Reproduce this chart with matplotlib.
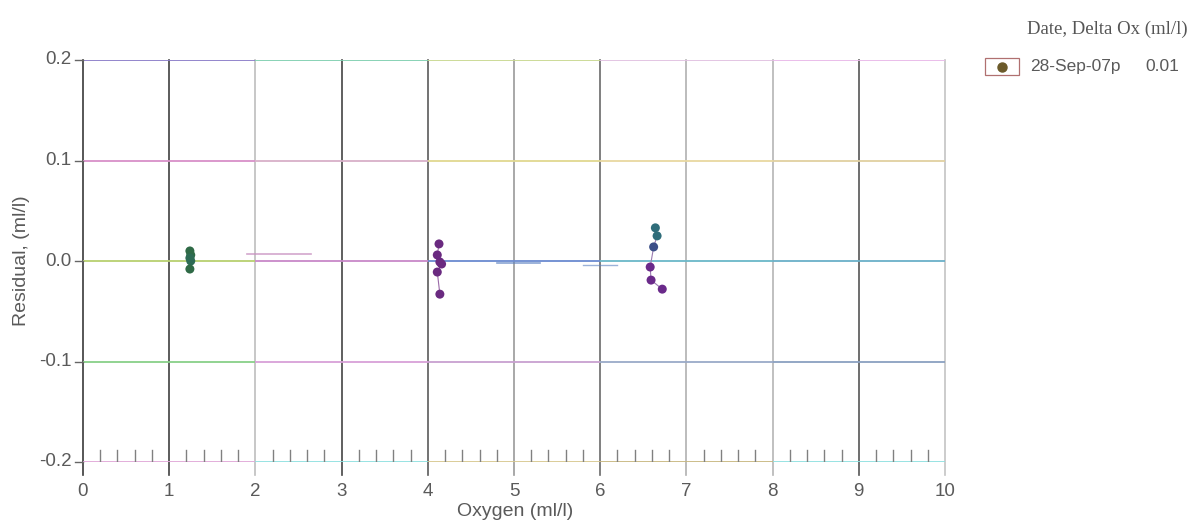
import matplotlib
matplotlib.use("Agg")
import matplotlib.pyplot as plt
from matplotlib.collections import LineCollection
from matplotlib.patches import Rectangle
import numpy as np

# Residuals of the oxygen calibration, grouped by bottle set
oxy_low = [1.24, 1.25, 1.24, 1.25, 1.24]
res_low = [0.010, 0.006, 0.003, 0.000, -0.008]
col_low = ["#2f6a46", "#2f6a46", "#2d6b55", "#2d6b55", "#2f6a46"]

oxy_mid = [4.13, 4.11, 4.14, 4.16, 4.11, 4.14]
res_mid = [0.017, 0.006, -0.001, -0.003, -0.011, -0.033]
col_mid = ["#6a2a80", "#6a2a80", "#6a2a80", "#6a2a80", "#6a2a80", "#6a2a80"]

oxy_high = [6.64, 6.66, 6.62, 6.58, 6.59, 6.72]
res_high = [0.033, 0.025, 0.014, -0.006, -0.019, -0.028]
col_high = ["#2f6d7a", "#2f6d7a", "#3b4e88", "#6a2a8a", "#6a2a8a", "#6a2a8a"]

x_ticks = [0, 1, 2, 3, 4, 5, 6, 7, 8, 9, 10]
y_ticks = [-0.2, -0.1, 0.0, 0.1, 0.2]
y_tick_labels = ["-0.2", "-0.1", "0.0", "0.1", "0.2"]

legend_title = "Date, Delta Ox (ml/l)"
legend_label = "28-Sep-07p"
legend_delta = "0.01"

W, H = 1203, 521
fig = plt.figure(figsize=(W / 100, H / 100), dpi=100)
ax = fig.add_axes([83 / W, 1 - 462 / H, 862 / W, 402 / H])
ax.set_xlim(0, 10)
ax.set_ylim(-0.2, 0.2)
ax.set_axis_off()


def fx(px):
    return px / W


def fy(py):
    return 1 - py / H


# Vertical grid lines, alternating dark and pale
vcols = ["#3a3a3a", "#404040", "#bdbdbd", "#444444", "#5a5a5a", "#9a9a9a",
         "#6a6a6a", "#b0b0b0", "#b5b5b5", "#555555", "#c4c4c4"]
for xv, c in zip(x_ticks, vcols):
    ax.plot([xv, xv], [-0.213, 0.2], color=c, lw=1.2, clip_on=False, zorder=1)

# Horizontal grid lines with tinted runs
hcols = {
    0.2: ["#8a7cc8", "#7fcfb0", "#c8d890", "#e0c0e0", "#e8b8e8"],
    0.1: ["#d890c8", "#d8b0c8", "#e0d890", "#e8d8a0", "#e0d0a0"],
    0.0: ["#b8d070", "#c888c8", "#6a8ad0", "#6ab8c8", "#6ab0c8"],
    -0.1: ["#88d088", "#d8a0d8", "#c8a0d0", "#9aaac8", "#8aa0c0"],
    -0.2: ["#e0a8d8", "#90e0e0", "#d8c890", "#c8b880", "#90e0e0"],
}
for yv, cols in hcols.items():
    edges = np.linspace(0, 10, len(cols) + 1)
    segs = [[(edges[i], yv), (edges[i + 1], yv)] for i in range(len(cols))]
    ax.add_collection(LineCollection(segs, colors=cols, linewidths=1.3, zorder=1))

# Y tick marks to the left of the frame
for yv in y_ticks:
    ax.plot([-0.09, 0], [yv, yv], color="#666666", lw=1.0, clip_on=False)

# Minor tick marks standing on the bottom line
for i in range(10):
    for k in range(1, 5):
        xm = i + 0.2 * k
        ax.plot([xm, xm], [-0.2, -0.1885], color="#808080", lw=1.0, zorder=1)

# Faint fitted-residual trace
ax.plot([1.9, 2.65], [0.007, 0.007], color="#c890c0", lw=1.2, alpha=0.8, zorder=1)
ax.plot([4.8, 5.3], [-0.002, -0.002], color="#5a80c0", lw=1.2, alpha=0.7, zorder=1)
ax.plot([5.8, 6.2], [-0.004, -0.004], color="#5a80c0", lw=1.0, alpha=0.6, zorder=1)

# Sample groups
for xs, ys, cs, lc in [(oxy_low, res_low, col_low, "#7aa08a"),
                       (oxy_mid, res_mid, col_mid, "#9a6aa8"),
                       (oxy_high, res_high, col_high, "#9a7ab0")]:
    ax.plot(xs, ys, color=lc, lw=0.8, zorder=3)
    ax.scatter(xs, ys, c=cs, s=42, zorder=4, edgecolors="none")

# Tick labels
tick_font = dict(family="Liberation Sans", fontsize=13.5, color="#5a5a5a")
for xv in x_ticks:
    ax.text(xv, -0.2205, str(xv), ha="center", va="top", **tick_font)
for yv, lab in zip(y_ticks, y_tick_labels):
    ax.text(-0.13, yv, lab, ha="right", va="center", **tick_font)

fig.text(fx(515), fy(512), "Oxygen (ml/l)", ha="center", va="center",
         family="Liberation Sans", fontsize=14, color="#5a5a5a")
fig.text(fx(22), fy(261), "Residual, (ml/l)", ha="center", va="center",
         rotation=90, family="Liberation Sans", fontsize=14, color="#5a5a5a")

# Legend block
fig.text(fx(1188), fy(34), legend_title, ha="right", va="baseline",
         family="Liberation Serif", fontsize=13.5, color="#555555")
fig.patches.append(Rectangle((fx(985), fy(75)), 34 / W, 17 / H,
                             transform=fig.transFigure, fill=False,
                             edgecolor="#b07070", lw=0.9))
fig.add_artist(plt.Line2D([fx(1002)], [fy(66.5)], marker="o",
                          markersize=6.5, color="#6b5a2a", linestyle="none",
                          transform=fig.transFigure))
fig.text(fx(1030), fy(66.5), legend_label, ha="left", va="center",
         family="Liberation Sans", fontsize=12.5, color="#5a5a5a")
fig.text(fx(1145), fy(66.5), legend_delta, ha="left", va="center",
         family="Liberation Sans", fontsize=12.5, color="#5a5a5a")

fig.savefig("out.png", dpi=100, facecolor="white")
